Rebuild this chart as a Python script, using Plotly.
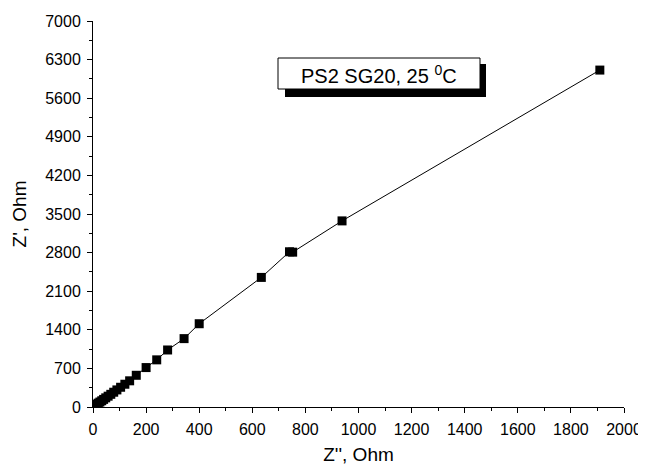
import plotly.graph_objects as go

z2 = [10, 15, 20, 26, 33, 40, 48, 57, 67, 78, 90, 104, 120, 138, 163, 200, 240, 281, 343, 400, 634, 740, 752, 938, 1909]
z1 = [35, 52, 70, 90, 113, 138, 166, 196, 230, 268, 310, 358, 413, 475, 575, 715, 855, 1034, 1240, 1510, 2350, 2815, 2808, 3375, 6110]

# page body has an 8px margin, so screen coords = div coords + 8
OFF = 8
W, H = 646, 472
X0, X1, Y0, Y1 = 93, 624, 21, 407  # plot area on screen
L, T = X0 - OFF, Y0 - OFF
R = W - (X1 - OFF)
B = H - (Y1 - OFF)
pw, ph = X1 - X0, Y1 - Y0

def px(x):
    return (x - X0) / pw

def py(y):
    return (Y1 - y) / ph

font = dict(family="Arial, Liberation Sans, sans-serif", size=16, color="black")

fig = go.Figure(go.Scatter(
    x=z2, y=z1, mode="lines+markers",
    line=dict(color="black", width=1),
    marker=dict(symbol="square", size=9, color="black"),
))

fig.update_layout(
    width=W, height=H, margin=dict(l=L, r=R, t=T, b=B, autoexpand=False),
    paper_bgcolor="white", plot_bgcolor="white", showlegend=False,
    font=font,
    xaxis=dict(range=[0, 2000], dtick=200, showgrid=False, zeroline=False,
               showline=True, linecolor="black", linewidth=1, automargin=False,
               ticks="outside", ticklen=5, tickcolor="black", ticklabelstandoff=3,
               minor=dict(ticks="outside", ticklen=3, dtick=100, tickcolor="black"),
               title=dict(text="Z'', Ohm", font=dict(size=19), standoff=10)),
    yaxis=dict(range=[0, 7000], dtick=700, showgrid=False, zeroline=False,
               showline=True, linecolor="black", linewidth=1, automargin=False,
               ticks="outside", ticklen=5, tickcolor="black", ticklabelstandoff=3,
               minor=dict(ticks="outside", ticklen=3, dtick=350, tickcolor="black"),
               title=dict(text="Z', Ohm", font=dict(size=19), standoff=13)),
)

# shadow and box of label
fig.add_shape(type="rect", xref="paper", yref="paper",
              x0=px(285), x1=px(486), y0=py(97), y1=py(64),
              fillcolor="black", line=dict(width=0), layer="above")
fig.add_shape(type="rect", xref="paper", yref="paper",
              x0=px(278), x1=px(480), y0=py(89), y1=py(58),
              fillcolor="white", line=dict(color="black", width=1), layer="above")
fig.add_annotation(xref="paper", yref="paper", x=px(299), y=py(74),
                   text="PS2 SG20, 25 <sup>0</sup>C", showarrow=False,
                   font=dict(size=20, color="black"), xanchor="left", yanchor="middle")

fig.write_html("out.html")
